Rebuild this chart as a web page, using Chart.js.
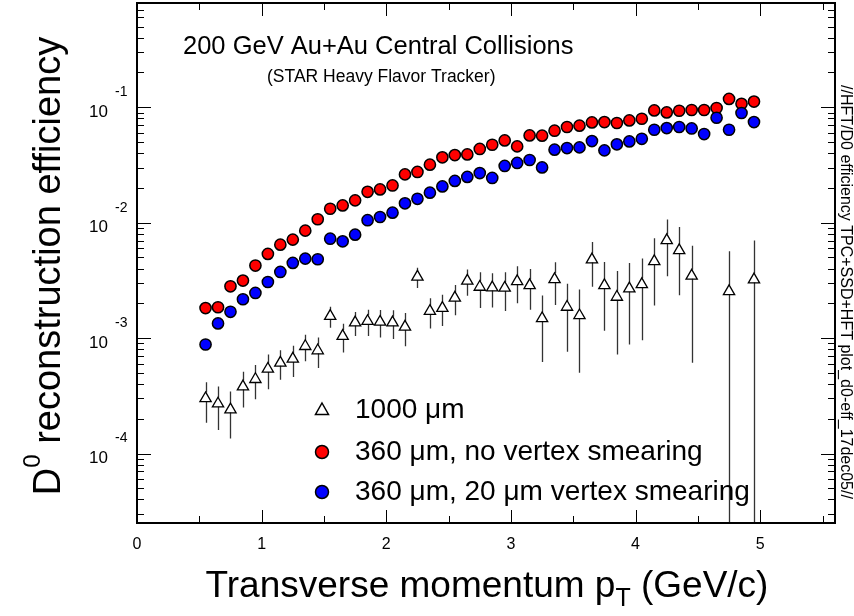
<!DOCTYPE html>
<html>
<head>
<meta charset="utf-8">
<script src="https://cdn.jsdelivr.net/npm/chart.js@4/dist/chart.umd.min.js"></script>
<style>
  html, body { margin: 0; padding: 0; background: #fff; }
  #wrap { width: 854px; height: 616px; }
</style>
</head>
<body>
<div id="wrap"><canvas id="eff" width="854" height="616"></canvas></div>
<script>
// pT bin centres (GeV/c)
const ptBins = [0.55, 0.65, 0.75, 0.85, 0.95, 1.05, 1.15, 1.25, 1.35, 1.45,
  1.55, 1.65, 1.75, 1.85, 1.95, 2.05, 2.15, 2.25, 2.35, 2.45,
  2.55, 2.65, 2.75, 2.85, 2.95, 3.05, 3.15, 3.25, 3.35, 3.45,
  3.55, 3.65, 3.75, 3.85, 3.95, 4.05, 4.15, 4.25, 4.35, 4.45,
  4.55, 4.65, 4.75, 4.85, 4.95];

// 360 um, no vertex smearing (red)
const effNoSmear = [1.82e-3, 1.85e-3, 2.81e-3, 3.15e-3, 4.25e-3, 5.36e-3, 6.45e-3, 7.13e-3, 8.53e-3, 1.07e-2,
  1.32e-2, 1.41e-2, 1.56e-2, 1.85e-2, 1.94e-2, 2.10e-2, 2.62e-2, 2.75e-2, 3.18e-2, 3.68e-2,
  3.85e-2, 3.90e-2, 4.35e-2, 4.73e-2, 5.16e-2, 4.58e-2, 5.70e-2, 5.67e-2, 6.26e-2, 6.74e-2,
  6.92e-2, 7.39e-2, 7.44e-2, 7.30e-2, 7.69e-2, 7.95e-2, 9.39e-2, 9.02e-2, 9.32e-2, 9.46e-2,
  9.46e-2, 9.84e-2, 0.118, 0.107, 0.112];

// 360 um, 20 um vertex smearing (blue)
const effSmear = [8.8e-4, 1.34e-3, 1.69e-3, 2.17e-3, 2.46e-3, 3.06e-3, 3.74e-3, 4.48e-3, 4.88e-3, 4.82e-3,
  7.26e-3, 6.89e-3, 7.87e-3, 1.05e-2, 1.12e-2, 1.22e-2, 1.47e-2, 1.61e-2, 1.82e-2, 2.06e-2,
  2.30e-2, 2.49e-2, 2.69e-2, 2.44e-2, 3.10e-2, 3.29e-2, 3.49e-2, 3.01e-2, 4.29e-2, 4.43e-2,
  4.49e-2, 5.09e-2, 4.23e-2, 4.77e-2, 5.06e-2, 5.33e-2, 6.38e-2, 6.60e-2, 6.74e-2, 6.55e-2,
  5.86e-2, 8.11e-2, 6.38e-2, 8.91e-2, 7.44e-2];

// 1000 um (open triangles) with errors
const ptThick = [0.55, 0.65, 0.75, 0.85, 0.95, 1.05, 1.15, 1.25, 1.35, 1.45,
  1.55, 1.65, 1.75, 1.85, 1.95, 2.05, 2.15, 2.25, 2.35, 2.45,
  2.55, 2.65, 2.75, 2.85, 2.95, 3.05, 3.15, 3.25, 3.35, 3.45,
  3.55, 3.65, 3.75, 3.85, 3.95, 4.05, 4.15, 4.25, 4.35, 4.45,
  4.75, 4.95];
const effThick = [3.0e-4, 2.7e-4, 2.4e-4, 3.8e-4, 4.4e-4, 5.4e-4, 6.1e-4, 6.6e-4, 8.5e-4, 7.8e-4,
  1.55e-3, 1.04e-3, 1.36e-3, 1.40e-3, 1.38e-3, 1.36e-3, 1.25e-3, 3.39e-3, 1.71e-3, 1.82e-3,
  2.23e-3, 3.13e-3, 2.77e-3, 2.74e-3, 2.72e-3, 3.10e-3, 2.86e-3, 1.48e-3, 3.23e-3, 1.86e-3,
  1.57e-3, 4.79e-3, 2.86e-3, 2.27e-3, 2.68e-3, 2.92e-3, 4.62e-3, 7.03e-3, 5.75e-3, 3.46e-3,
  2.54e-3, 3.21e-3];
const errThick = [1.15e-4, 1.1e-4, 1.05e-4, 1.3e-4, 1.45e-4, 1.8e-4, 1.75e-4, 2.0e-4, 2.2e-4, 2.3e-4,
  3.2e-4, 2.9e-4, 3.2e-4, 3.6e-4, 3.7e-4, 3.8e-4, 4.0e-4, 6.8e-4, 5.0e-4, 5.5e-4,
  6.5e-4, 8.0e-4, 9.5e-4, 9.0e-4, 1.0e-3, 1.1e-3, 1.1e-3, 8.6e-4, 1.3e-3, 1.1e-3,
  1.07e-3, 2.0e-3, 1.7e-3, 1.55e-3, 1.8e-3, 1.96e-3, 2.7e-3, 3.6e-3, 3.4e-3, 2.85e-3,
  3.1e-3, 3.8e-3];

const xTickLabels = ['0', '1', '2', '3', '4', '5'];
const yDecades = [-4, -3, -2, -1];

const FONT = '"Liberation Sans", Arial, Helvetica, sans-serif';

function pairs(xs, ys) {
  return xs.map((x, i) => ({ x: x, y: ys[i] }));
}

const rootDecor = {
  id: 'rootDecor',
  beforeDatasetsDraw(chart) {
    const { ctx, chartArea: a, scales: { x, y } } = chart;
    ctx.save();
    ctx.beginPath();
    ctx.rect(a.left, a.top, a.right - a.left, a.bottom - a.top);
    ctx.clip();
    ctx.strokeStyle = '#333';
    ctx.lineWidth = 1.3;
    ptThick.forEach((pt, i) => {
      const px = Math.round(x.getPixelForValue(pt)) + 0.5;
      const py = y.getPixelForValue(effThick[i]);
      const hi = y.getPixelForValue(effThick[i] + errThick[i]);
      const lo = effThick[i] - errThick[i] > 0 ? y.getPixelForValue(effThick[i] - errThick[i]) : a.bottom;
      ctx.beginPath();
      ctx.moveTo(px, hi);
      ctx.lineTo(px, py - 6);
      ctx.moveTo(px, py + 3);
      ctx.lineTo(px, lo);
      ctx.stroke();
    });
    ctx.restore();
  },
  afterDatasetsDraw(chart) {
    const { ctx, chartArea: a, scales: { x, y } } = chart;
    ctx.save();
    ctx.strokeStyle = '#000';
    ctx.lineWidth = 1;
    ctx.beginPath();
    // x ticks: bottom and top
    for (let v = 0; v <= 5.5 + 1e-9; v += 0.5) {
      const px = Math.round(x.getPixelForValue(v)) + 0.5;
      const len = Math.abs(v - Math.round(v)) < 1e-6 ? 13 : 7;
      ctx.moveTo(px, a.bottom); ctx.lineTo(px, a.bottom - len);
      ctx.moveTo(px, a.top); ctx.lineTo(px, a.top + len);
    }
    // y ticks: left and right
    for (let d = -5; d <= -1; d++) {
      for (let m = 1; m <= 9; m++) {
        const v = m * Math.pow(10, d);
        if (v < y.min || v > y.max) continue;
        const py = Math.round(y.getPixelForValue(v)) + 0.5;
        const len = m === 1 ? 14 : 7;
        ctx.moveTo(a.left, py); ctx.lineTo(a.left + len, py);
        ctx.moveTo(a.right, py); ctx.lineTo(a.right - len, py);
      }
    }
    ctx.stroke();
    // frame
    ctx.lineWidth = 2;
    ctx.strokeRect(a.left, a.top, a.right - a.left, a.bottom - a.top);
    ctx.restore();
  },
  afterDraw(chart) {
    const { ctx, chartArea: a, scales: { x, y } } = chart;
    ctx.save();
    ctx.fillStyle = '#000';

    // x tick labels
    ctx.font = '16px ' + FONT;
    ctx.textAlign = 'center';
    ctx.textBaseline = 'middle';
    xTickLabels.forEach((t, i) => {
      ctx.fillText(t, x.getPixelForValue(i), a.bottom + 22);
    });

    // y tick labels 10^n
    yDecades.forEach(d => {
      const py = y.getPixelForValue(Math.pow(10, d));
      ctx.font = '17px ' + FONT;
      ctx.textAlign = 'right';
      ctx.fillText('10', 108, py + 5);
      ctx.font = '14px ' + FONT;
      ctx.textAlign = 'left';
      ctx.fillText(String(d), 115, py - 15);
    });

    // axis titles
    ctx.textAlign = 'left';
    ctx.textBaseline = 'alphabetic';
    const xt1 = 'Transverse momentum p';
    const xt2 = ' (GeV/c)';
    ctx.font = '37px ' + FONT;
    const w1 = ctx.measureText(xt1).width;
    ctx.font = '25px ' + FONT;
    const ws = ctx.measureText('T').width;
    ctx.font = '37px ' + FONT;
    const w2 = ctx.measureText(xt2).width;
    let x0 = 487 - (w1 + ws + w2) / 2;
    ctx.fillText(xt1, x0, 597);
    ctx.font = '25px ' + FONT;
    ctx.fillText('T', x0 + w1, 606);
    ctx.font = '37px ' + FONT;
    ctx.fillText(xt2, x0 + w1 + ws, 597);

    ctx.save();
    ctx.translate(60, 266);
    ctx.rotate(-Math.PI / 2);
    const yt = ' reconstruction efficiency';
    ctx.font = '38px ' + FONT;
    const wd = ctx.measureText('D').width;
    const wy = ctx.measureText(yt).width;
    ctx.font = '24px ' + FONT;
    const wsup = ctx.measureText('0').width;
    let y0 = -(wd + wsup + wy) / 2;
    ctx.font = '38px ' + FONT;
    ctx.fillText('D', y0, 0);
    ctx.font = '24px ' + FONT;
    ctx.fillText('0', y0 + wd, -20);
    ctx.font = '38px ' + FONT;
    ctx.fillText(yt, y0 + wd + wsup, 0);
    ctx.restore();

    // right-hand file tag
    ctx.save();
    ctx.translate(845, 292);
    ctx.rotate(Math.PI / 2);
    ctx.font = '16px ' + FONT;
    ctx.textAlign = 'center';
    ctx.textBaseline = 'middle';
    ctx.fillText('//HFT/D0 efficiency TPC+SSD+HFT plot_d0-eff_17dec05//', 0, 0);
    ctx.restore();

    // titles in frame
    ctx.textAlign = 'left';
    ctx.textBaseline = 'middle';
    ctx.font = '25.5px ' + FONT;
    ctx.fillText('200 GeV Au+Au Central Collisions', 183, 47);
    ctx.font = '17.5px ' + FONT;
    ctx.fillText('(STAR Heavy Flavor Tracker)', 267, 77);

    // legend
    const lx = 322;
    const rows = [410, 452, 492];
    ctx.lineWidth = 1.5;
    ctx.strokeStyle = '#000';
    ctx.beginPath();
    ctx.moveTo(lx, rows[0] - 7);
    ctx.lineTo(lx + 6.5, rows[0] + 4.5);
    ctx.lineTo(lx - 6.5, rows[0] + 4.5);
    ctx.closePath();
    ctx.fillStyle = '#fff';
    ctx.fill();
    ctx.stroke();
    [['#ff0000', rows[1]], ['#0000ff', rows[2]]].forEach(([c, ry]) => {
      ctx.beginPath();
      ctx.arc(lx, ry, 6.5, 0, Math.PI * 2);
      ctx.fillStyle = c;
      ctx.fill();
      ctx.stroke();
    });
    ctx.fillStyle = '#000';
    ctx.font = '28px ' + FONT;
    ctx.fillText('1000 \u03bcm', 355, rows[0]);
    ctx.fillText('360 \u03bcm, no vertex smearing', 355, rows[1]);
    ctx.fillText('360 \u03bcm, 20 \u03bcm vertex smearing', 355, rows[2]);
    ctx.restore();
  }
};

new Chart(document.getElementById('eff'), {
  type: 'scatter',
  data: {
    datasets: [
      {
        label: '360 \u03bcm, 20 \u03bcm vertex smearing',
        data: pairs(ptBins, effSmear),
        backgroundColor: '#0000ff',
        borderColor: '#000',
        borderWidth: 1.5,
        pointRadius: 5.6,
        order: 0
      },
      {
        label: '360 \u03bcm, no vertex smearing',
        data: pairs(ptBins, effNoSmear),
        backgroundColor: '#ff0000',
        borderColor: '#000',
        borderWidth: 1.5,
        pointRadius: 5.6,
        order: 1
      },
      {
        label: '1000 \u03bcm',
        data: pairs(ptThick, effThick),
        pointStyle: 'triangle',
        backgroundColor: 'rgba(255,255,255,0)',
        borderColor: '#000',
        borderWidth: 1.3,
        pointRadius: 6.5,
        order: 2
      }
    ]
  },
  options: {
    responsive: false,
    animation: false,
    layout: { autoPadding: false, padding: { top: 3, right: 19, left: 0, bottom: 0 } },
    scales: {
      x: {
        type: 'linear',
        min: 0,
        max: 5.6,
        grid: { display: false },
        border: { display: false },
        ticks: { display: false },
        afterFit(s) { s.height = 93; }
      },
      y: {
        type: 'logarithmic',
        min: 2.5e-5,
        max: 0.8,
        grid: { display: false },
        border: { display: false },
        ticks: { display: false },
        afterFit(s) { s.width = 137; }
      }
    },
    plugins: {
      legend: { display: false },
      tooltip: { enabled: false }
    }
  },
  plugins: [rootDecor]
});
</script>
</body>
</html>
